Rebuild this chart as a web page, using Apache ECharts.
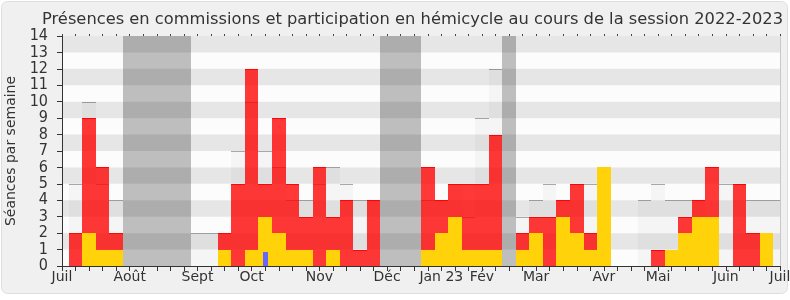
<!DOCTYPE html>
<html>
<head>
<meta charset="utf-8">
<script src="https://cdn.jsdelivr.net/npm/echarts@6/dist/echarts.min.js"></script>
<style>
html,body{margin:0;padding:0;background:#ffffff;}
#chart{width:790px;height:300px;}
</style>
</head>
<body>
<div id="chart"></div>
<script>
// ---- data (one value per week, week 0 = week of 4 July 2022) ----
const ceilingWeek   = [5,10,5,4,0,0,0,0,0,2,2,2,7,10,7,6,4,4,5,6,5,4,4,0,0,0,4,4,5,3,9,12,0,3,4,5,4,5,5,5,0,0,4,5,4,4,4,3,5,5,4,4,4];
const commissionWeek = [2,9,6,2,0,0,0,0,0,0,0,2,5,12,5,9,5,3,6,3,4,1,4,0,0,0,6,4,5,5,5,8,0,2,3,3,4,5,2,0,0,0,0,1,0,3,4,6,0,5,2,0,0];
const hemicycleWeek  = [0,2,1,1,0,0,0,0,0,0,0,1,0,1,3,2,1,1,0,1,0,0,0,0,0,0,1,2,3,1,1,1,0,1,2,0,3,2,1,6,0,0,0,0,1,2,3,3,0,0,0,2,0];
const questionWeeks  = [14];
const questionValues = [0.85];
const vacationWeeks  = [4,5,6,7,8,23,24,25,32];
const monthTickWeeks = [-1,4,9,13,18,23,27,30,34,39,43,48,52];
const monthLabels    = ['Juil','Août','Sept','Oct','Nov','Déc','Jan 23','Fév','Mar','Avr','Mai','Juin','Juil'];
const yMax = 14;

const FONT = 'DejaVu Sans';
const FONT_C = '"DejaVu Sans Condensed", "DejaVu Sans"';
const chart = echarts.init(document.getElementById('chart'), null, {renderer:'canvas'});

function toSeries(arr){ return arr.map((v,i)=>[i,v]); }

function makeRender(fill, lineColor, halfWidth){
  return function(params, api){
    const i = api.value(0), v = api.value(1);
    if (!v) return null;
    const hw = halfWidth || 0.5;
    const p0 = api.coord([i - hw, v]);
    const p1 = api.coord([i + hw, 0]);
    const x0 = Math.round(p0[0]), x1 = Math.round(p1[0]);
    const y0 = Math.round(p0[1]), y1 = Math.round(p1[1]);
    const cs = params.coordSys;
    const r = echarts.graphic.clipRectByRect(
      {x:x0, y:y0, width:x1-x0, height:y1-y0},
      {x:cs.x, y:cs.y, width:cs.width, height:cs.height});
    if (!r) return null;
    const children = [{type:'rect', shape:r, style:{fill:fill, stroke:null, lineWidth:0}}];
    if (lineColor){
      children.push({type:'line', shape:{x1:r.x, y1:r.y+0.5, x2:r.x+r.width, y2:r.y+0.5},
        style:{stroke:lineColor, lineWidth:1}});
    }
    return {type:'group', children:children};
  };
}

const labelMap = {};
monthTickWeeks.forEach((w,k)=>{ labelMap[w] = monthLabels[k]; });

const option = {
  animation:false,
  backgroundColor:'transparent',
  graphic:[{
    type:'rect', z:-10, silent:true,
    shape:{x:1.5, y:1.5, width:786, height:292, r:6},
    style:{fill:'#f0f0f0', stroke:'#dedede', lineWidth:1}
  }],
  title:{
    text:'Présences en commissions et participation en hémicycle au cours de la session 2022-2023',
    left:37, top:7,
    textStyle:{fontFamily:FONT, fontSize:16.3, fontWeight:'normal', color:'#333'}
  },
  grid:{left:62, right:10, top:36, bottom:34, show:true, backgroundColor:'#fcfcfc', borderWidth:0,
    containLabel:false, outerBoundsMode:'none'},
  xAxis:[{
    type:'value', min:-1, max:52, interval:1, position:'bottom', z:5,
    axisLine:{show:true, onZero:false, lineStyle:{color:'#333', width:1}},
    axisTick:{show:true, length:5, lineStyle:{color:'#333'}},
    axisLabel:{show:true, margin:4, fontFamily:FONT, fontSize:14, color:'#333',
      showMinLabel:true, showMaxLabel:true,
      formatter:function(v){ return labelMap[Math.round(v)] || ''; }},
    splitLine:{show:false}
  },{
    type:'value', min:-1, max:52, interval:1, position:'top', z:5,
    axisLine:{show:false, onZero:false},
    axisTick:{show:true, length:2, lineStyle:{color:'#444'}},
    axisLabel:{show:false},
    splitLine:{show:false}
  }],
  yAxis:[{
    type:'value', min:0, max:yMax, interval:1, position:'left', z:1.5,
    name:'Séances par semaine', nameLocation:'middle', nameGap:42, nameRotate:90,
    nameTextStyle:{fontFamily:FONT, fontSize:14, color:'#333'},
    axisLine:{show:true, onZero:false, lineStyle:{color:'#333', width:1}},
    axisTick:{show:true, length:5, lineStyle:{color:'#333'}},
    axisLabel:{margin:14, fontFamily:FONT_C, fontSize:16, color:'#333'},
    splitLine:{show:false},
    splitArea:{show:true, areaStyle:{color:['rgba(0,0,0,0)','rgba(0,0,0,0.087)']}}
  },{
    type:'value', min:0, max:yMax, interval:1, position:'right', z:5,
    axisLine:{show:true, onZero:false, lineStyle:{color:'#c8c8c8', width:1}},
    axisTick:{show:false}, axisLabel:{show:false}, splitLine:{show:false}
  }],
  series:[
    {type:'custom', name:'vacances', z:1, renderItem:makeRender('#bebebe', null),
      data:vacationWeeks.map(w=>[w, yMax]), encode:{x:0,y:1}},
    {type:'custom', name:'max', z:1, renderItem:makeRender('#f5f5f5', '#a8a8a8'),
      data:toSeries(ceilingWeek), encode:{x:0,y:1}},
    {type:'custom', name:'commission', z:2, renderItem:makeRender('rgba(255,0,0,0.78)', 'rgba(255,0,0,0.9)'),
      data:toSeries(commissionWeek), encode:{x:0,y:1}},
    {type:'custom', name:'hemicycle', z:3, renderItem:makeRender('#ffd20a', null),
      data:toSeries(hemicycleWeek), encode:{x:0,y:1}},
    {type:'custom', name:'questions', z:4, renderItem:makeRender('#6666ff', null, 0.19),
      data:questionWeeks.map((w,k)=>[w, questionValues[k]]), encode:{x:0,y:1}}
  ]
};
chart.setOption(option);
</script>
</body>
</html>
